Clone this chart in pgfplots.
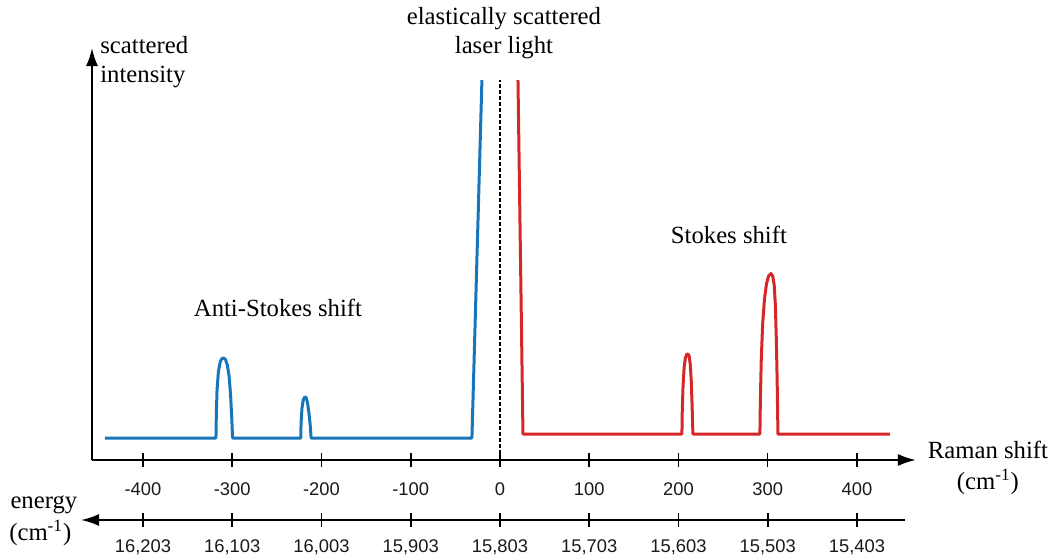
\documentclass[border=0pt]{standalone}
\usepackage{fontspec}
\setmainfont{Liberation Serif}
\newfontfamily\ticksans{Liberation Sans}
\usepackage{pgfplots}
\pgfplotsset{compat=1.18}
\usetikzlibrary{arrows.meta}

\definecolor{antiblue}{RGB}{23,118,186}
\definecolor{stokesred}{RGB}{214,39,40}

\newcommand{\lbl}{\fontsize{12.4}{14.5}\selectfont}

\begin{document}
\begin{tikzpicture}
\useasboundingbox (-46bp,-49bp) rectangle (482bp,230bp);

% Raman shift axis with the spectrum
\begin{axis}[
  at={(0,0)}, anchor=south west,
  x=0.44625bp, y=0.5bp,
  xmin=-457.1, xmax=466.1, ymin=0, ymax=412,
  axis lines=left,
  axis line style={line width=1bp, -{Latex[length=9bp,width=6bp]}},
  ytick=\empty,
  xtick={-400,-300,-200,-100,0,100,200,300,400},
  xticklabels={-400,-300,-200,-100,0,100,200,300,400},
  xticklabel style={font=\ticksans\fontsize{9.2}{10}\selectfont, text=black!90, yshift=-4.5bp},
  tick align=center,
  major tick length=7bp,
  every tick/.style={black, line width=0.8bp},
  clip=false,
]
% anti-Stokes side and rising edge of the laser line
\addplot[antiblue, line width=1.5bp, line join=round] coordinates {
  (-442.6,22) (-318.2,22) (-317.8,45) (-317.0,70) (-315.5,88) (-313.5,98)
  (-311.5,101.5) (-309.5,102) (-307.5,100.5) (-305.5,95) (-303.5,84)
  (-301.8,65) (-300.5,42) (-299.6,22)
  (-223.2,22) (-222.8,38) (-221.8,52) (-220.4,60) (-218.8,63) (-217.2,62.5)
  (-215.6,57) (-214.0,47) (-212.6,35) (-211.6,22)
  (-31.4,22) (-20.2,380)
};
% falling edge of the laser line and Stokes side
\addplot[stokesred, line width=1.5bp, line join=round] coordinates {
  (20.2,380) (25.8,26)
  (203.9,26) (204.3,50) (205.2,75) (206.4,93) (207.8,102) (209.2,105.5)
  (210.6,106) (212.0,104) (213.2,96) (214.3,80) (215.3,55) (216.2,26)
  (291.3,26) (291.8,60) (292.8,100) (294.3,135) (296.3,160) (298.6,176)
  (301.0,184) (303.6,186.5) (305.6,184) (307.3,175) (308.6,155)
  (309.7,120) (310.6,80) (311.5,26)
  (437.0,26)
};
% laser wavenumber
\addplot[black, line width=1bp, dash pattern=on 2bp off 1bp] coordinates {(0,0) (0,380)};

\node[anchor=west, align=left, font=\lbl, inner sep=0pt] at (axis cs:-448.2,398) {scattered\\intensity};
\node[align=center, font=\lbl, inner sep=0pt] at (axis cs:4.5,427) {elastically scattered\\laser light};
\node[font=\lbl, inner sep=0pt] at (axis cs:-248.7,152) {Anti-Stokes shift};
\node[font=\lbl, inner sep=0pt] at (axis cs:256.6,225) {Stokes shift};
\node[font=\lbl, inner sep=0pt] at (axis cs:546.8,10) {Raman shift};
\node[font=\lbl, inner sep=0pt] at (axis cs:546.8,-22) {(cm\textsuperscript{-1})};
\node[font=\lbl, inner sep=0pt] at (axis cs:-511,-45) {energy};
\node[font=\lbl, inner sep=0pt] at (axis cs:-515,-73) {(cm\textsuperscript{-1})};
\end{axis}

% absolute photon energy axis
\begin{axis}[
  at={(-5.5bp,-30bp)}, anchor=south west,
  x=0.44625bp, y=1bp,
  xmin=-469.5, xmax=453.8, ymin=0, ymax=1,
  axis x line*=bottom,
  hide y axis,
  x axis line style={line width=1bp, {Latex[length=9bp,width=6bp]}-},
  xtick={-400,-300,-200,-100,0,100,200,300,400},
  xticklabels={{16,203},{16,103},{16,003},{15,903},{15,803},{15,703},{15,603},{15,503},{15,403}},
  xticklabel style={font=\ticksans\fontsize{9.2}{10}\selectfont, text=black!90, yshift=-3bp},
  tick align=center,
  major tick length=7bp,
  every tick/.style={black, line width=0.8bp},
  clip=false,
]
\addplot[draw=none] coordinates {(0,0)};
\end{axis}
\end{tikzpicture}
\end{document}
